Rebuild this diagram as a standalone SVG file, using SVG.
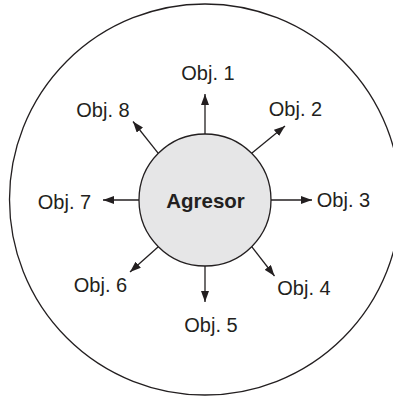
<svg xmlns="http://www.w3.org/2000/svg" width="393" height="397" viewBox="0 0 393 397">
<defs>
<style>
.lbl{font-family:"Liberation Sans",Arial,sans-serif;font-size:20px;fill:#231f20;text-anchor:middle}
.ln{stroke:#231f20;stroke-width:1.3;fill:none}
</style>
<marker id="ah" viewBox="0 0 11 8" refX="11" refY="4" markerWidth="11" markerHeight="8" markerUnits="userSpaceOnUse" orient="auto">
<path d="M0,0 L11,4 L0,8 Z" fill="#231f20"/>
</marker>
</defs>
<rect width="393" height="397" fill="#ffffff"/>
<g id="outer"><circle cx="205" cy="199.5" r="195.5" class="ln"/></g>
<g id="connectors">
<line class="ln" x1="205" y1="134" x2="205" y2="94" marker-end="url(#ah)"/>
<line class="ln" x1="251.7" y1="153.3" x2="285" y2="126" marker-end="url(#ah)"/>
<line class="ln" x1="271" y1="200" x2="312" y2="200" marker-end="url(#ah)"/>
<line class="ln" x1="251.7" y1="246.7" x2="274.5" y2="276" marker-end="url(#ah)"/>
<line class="ln" x1="205" y1="266" x2="205" y2="302" marker-end="url(#ah)"/>
<line class="ln" x1="158.3" y1="246.7" x2="130" y2="272" marker-end="url(#ah)"/>
<line class="ln" x1="139" y1="200" x2="103" y2="200" marker-end="url(#ah)"/>
<line class="ln" x1="158.3" y1="153.3" x2="133" y2="121.5" marker-end="url(#ah)"/>
</g>
<g id="agresor">
<circle cx="205" cy="200" r="66" fill="#e6e6e7" stroke="#231f20" stroke-width="1.3"/>
<text x="205.5" y="207.5" class="lbl" style="font-weight:bold;font-size:20.5px">Agresor</text>
</g>
<g id="obj1"><text class="lbl" x="208" y="80">Obj. 1</text></g>
<g id="obj2"><text class="lbl" x="295.5" y="116">Obj. 2</text></g>
<g id="obj3"><text class="lbl" x="343.5" y="207">Obj. 3</text></g>
<g id="obj4"><text class="lbl" x="304" y="295">Obj. 4</text></g>
<g id="obj5"><text class="lbl" x="211" y="332">Obj. 5</text></g>
<g id="obj6"><text class="lbl" x="100.5" y="292">Obj. 6</text></g>
<g id="obj7"><text class="lbl" x="64.5" y="209">Obj. 7</text></g>
<g id="obj8"><text class="lbl" x="103" y="117">Obj. 8</text></g>
</svg>
